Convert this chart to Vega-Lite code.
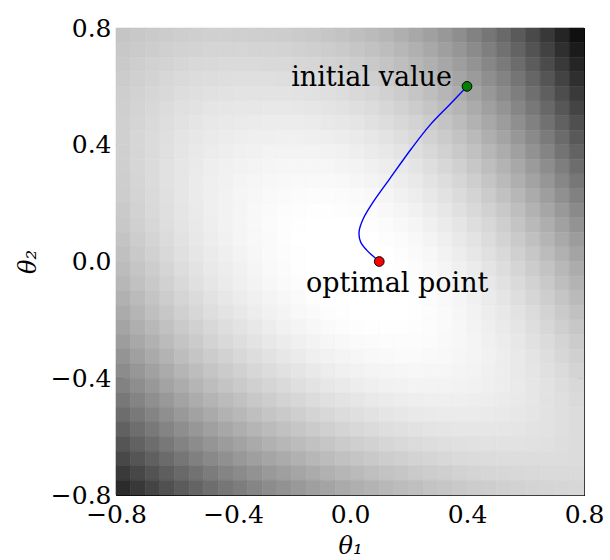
{
  "$schema": "https://vega.github.io/schema/vega-lite/v6.json",
  "width": 468,
  "height": 467,
  "autosize": {"type": "none"},
  "padding": {"left": 116, "top": 28, "right": 26, "bottom": 65},
  "background": "white",
  "config": {
    "font": "DejaVu Serif",
    "view": {"stroke": null},
    "axis": {
      "domainColor": "black", "domainWidth": 1,
      "tickColor": "black", "tickWidth": 1, "tickSize": -7,
      "labelColor": "black", "labelFont": "DejaVu Serif", "labelFontSize": 25,
      "labelOverlap": false, "labelFlush": false, "labelBound": false,
      "titleColor": "black", "titleFont": "DejaVu Serif", "titleFontWeight": "normal",
      "titleFontStyle": "italic", "titleFontSize": 24, "grid": false
    }
  },
  "datasets": {
    "surface": [
{"a":-0.775,"b":0.775,"v":58},{"a":-0.725,"b":0.775,"v":55},{"a":-0.675,"b":0.775,"v":53},{"a":-0.625,"b":0.775,"v":51},{"a":-0.575,"b":0.775,"v":49},{"a":-0.525,"b":0.775,"v":48},{"a":-0.475,"b":0.775,"v":47},{"a":-0.425,"b":0.775,"v":47},{"a":-0.375,"b":0.775,"v":48},{"a":-0.325,"b":0.775,"v":48},{"a":-0.275,"b":0.775,"v":49},{"a":-0.225,"b":0.775,"v":50},{"a":-0.175,"b":0.775,"v":52},{"a":-0.125,"b":0.775,"v":54},{"a":-0.075,"b":0.775,"v":57},{"a":-0.025,"b":0.775,"v":60},{"a":0.025,"b":0.775,"v":64},{"a":0.075,"b":0.775,"v":68},{"a":0.125,"b":0.775,"v":73},{"a":0.175,"b":0.775,"v":80},{"a":0.225,"b":0.775,"v":87},{"a":0.275,"b":0.775,"v":95},{"a":0.325,"b":0.775,"v":103},{"a":0.375,"b":0.775,"v":113},{"a":0.425,"b":0.775,"v":125},{"a":0.475,"b":0.775,"v":137},{"a":0.525,"b":0.775,"v":150},{"a":0.575,"b":0.775,"v":165},{"a":0.625,"b":0.775,"v":181},{"a":0.675,"b":0.775,"v":199},{"a":0.725,"b":0.775,"v":218},{"a":0.775,"b":0.775,"v":239},
{"a":-0.775,"b":0.725,"v":55},{"a":-0.725,"b":0.725,"v":52},{"a":-0.675,"b":0.725,"v":50},{"a":-0.625,"b":0.725,"v":47},{"a":-0.575,"b":0.725,"v":45},{"a":-0.525,"b":0.725,"v":44},{"a":-0.475,"b":0.725,"v":42},{"a":-0.425,"b":0.725,"v":42},{"a":-0.375,"b":0.725,"v":42},{"a":-0.325,"b":0.725,"v":43},{"a":-0.275,"b":0.725,"v":43},{"a":-0.225,"b":0.725,"v":44},{"a":-0.175,"b":0.725,"v":46},{"a":-0.125,"b":0.725,"v":48},{"a":-0.075,"b":0.725,"v":50},{"a":-0.025,"b":0.725,"v":53},{"a":0.025,"b":0.725,"v":57},{"a":0.075,"b":0.725,"v":61},{"a":0.125,"b":0.725,"v":66},{"a":0.175,"b":0.725,"v":72},{"a":0.225,"b":0.725,"v":79},{"a":0.275,"b":0.725,"v":87},{"a":0.325,"b":0.725,"v":96},{"a":0.375,"b":0.725,"v":105},{"a":0.425,"b":0.725,"v":116},{"a":0.475,"b":0.725,"v":128},{"a":0.525,"b":0.725,"v":142},{"a":0.575,"b":0.725,"v":156},{"a":0.625,"b":0.725,"v":172},{"a":0.675,"b":0.725,"v":189},{"a":0.725,"b":0.725,"v":208},{"a":0.775,"b":0.725,"v":228},
{"a":-0.775,"b":0.675,"v":53},{"a":-0.725,"b":0.675,"v":49},{"a":-0.675,"b":0.675,"v":46},{"a":-0.625,"b":0.675,"v":44},{"a":-0.575,"b":0.675,"v":41},{"a":-0.525,"b":0.675,"v":39},{"a":-0.475,"b":0.675,"v":38},{"a":-0.425,"b":0.675,"v":37},{"a":-0.375,"b":0.675,"v":37},{"a":-0.325,"b":0.675,"v":37},{"a":-0.275,"b":0.675,"v":38},{"a":-0.225,"b":0.675,"v":38},{"a":-0.175,"b":0.675,"v":40},{"a":-0.125,"b":0.675,"v":41},{"a":-0.075,"b":0.675,"v":44},{"a":-0.025,"b":0.675,"v":46},{"a":0.025,"b":0.675,"v":50},{"a":0.075,"b":0.675,"v":54},{"a":0.125,"b":0.675,"v":59},{"a":0.175,"b":0.675,"v":65},{"a":0.225,"b":0.675,"v":72},{"a":0.275,"b":0.675,"v":79},{"a":0.325,"b":0.675,"v":88},{"a":0.375,"b":0.675,"v":97},{"a":0.425,"b":0.675,"v":108},{"a":0.475,"b":0.675,"v":120},{"a":0.525,"b":0.675,"v":133},{"a":0.575,"b":0.675,"v":147},{"a":0.625,"b":0.675,"v":163},{"a":0.675,"b":0.675,"v":180},{"a":0.725,"b":0.675,"v":198},{"a":0.775,"b":0.675,"v":218},
{"a":-0.775,"b":0.625,"v":51},{"a":-0.725,"b":0.625,"v":47},{"a":-0.675,"b":0.625,"v":44},{"a":-0.625,"b":0.625,"v":40},{"a":-0.575,"b":0.625,"v":37},{"a":-0.525,"b":0.625,"v":35},{"a":-0.475,"b":0.625,"v":34},{"a":-0.425,"b":0.625,"v":33},{"a":-0.375,"b":0.625,"v":32},{"a":-0.325,"b":0.625,"v":32},{"a":-0.275,"b":0.625,"v":32},{"a":-0.225,"b":0.625,"v":33},{"a":-0.175,"b":0.625,"v":34},{"a":-0.125,"b":0.625,"v":36},{"a":-0.075,"b":0.625,"v":38},{"a":-0.025,"b":0.625,"v":40},{"a":0.025,"b":0.625,"v":44},{"a":0.075,"b":0.625,"v":48},{"a":0.125,"b":0.625,"v":52},{"a":0.175,"b":0.625,"v":58},{"a":0.225,"b":0.625,"v":64},{"a":0.275,"b":0.625,"v":72},{"a":0.325,"b":0.625,"v":80},{"a":0.375,"b":0.625,"v":90},{"a":0.425,"b":0.625,"v":100},{"a":0.475,"b":0.625,"v":112},{"a":0.525,"b":0.625,"v":124},{"a":0.575,"b":0.625,"v":138},{"a":0.625,"b":0.625,"v":153},{"a":0.675,"b":0.625,"v":170},{"a":0.725,"b":0.625,"v":188},{"a":0.775,"b":0.625,"v":208},
{"a":-0.775,"b":0.575,"v":49},{"a":-0.725,"b":0.575,"v":45},{"a":-0.675,"b":0.575,"v":41},{"a":-0.625,"b":0.575,"v":38},{"a":-0.575,"b":0.575,"v":34},{"a":-0.525,"b":0.575,"v":32},{"a":-0.475,"b":0.575,"v":30},{"a":-0.425,"b":0.575,"v":29},{"a":-0.375,"b":0.575,"v":28},{"a":-0.325,"b":0.575,"v":28},{"a":-0.275,"b":0.575,"v":28},{"a":-0.225,"b":0.575,"v":28},{"a":-0.175,"b":0.575,"v":29},{"a":-0.125,"b":0.575,"v":30},{"a":-0.075,"b":0.575,"v":32},{"a":-0.025,"b":0.575,"v":34},{"a":0.025,"b":0.575,"v":38},{"a":0.075,"b":0.575,"v":41},{"a":0.125,"b":0.575,"v":46},{"a":0.175,"b":0.575,"v":51},{"a":0.225,"b":0.575,"v":58},{"a":0.275,"b":0.575,"v":65},{"a":0.325,"b":0.575,"v":73},{"a":0.375,"b":0.575,"v":82},{"a":0.425,"b":0.575,"v":92},{"a":0.475,"b":0.575,"v":103},{"a":0.525,"b":0.575,"v":116},{"a":0.575,"b":0.575,"v":129},{"a":0.625,"b":0.575,"v":144},{"a":0.675,"b":0.575,"v":160},{"a":0.725,"b":0.575,"v":178},{"a":0.775,"b":0.575,"v":197},
{"a":-0.775,"b":0.525,"v":48},{"a":-0.725,"b":0.525,"v":43},{"a":-0.675,"b":0.525,"v":39},{"a":-0.625,"b":0.525,"v":35},{"a":-0.575,"b":0.525,"v":31},{"a":-0.525,"b":0.525,"v":29},{"a":-0.475,"b":0.525,"v":26},{"a":-0.425,"b":0.525,"v":25},{"a":-0.375,"b":0.525,"v":24},{"a":-0.325,"b":0.525,"v":24},{"a":-0.275,"b":0.525,"v":23},{"a":-0.225,"b":0.525,"v":23},{"a":-0.175,"b":0.525,"v":24},{"a":-0.125,"b":0.525,"v":25},{"a":-0.075,"b":0.525,"v":27},{"a":-0.025,"b":0.525,"v":29},{"a":0.025,"b":0.525,"v":32},{"a":0.075,"b":0.525,"v":35},{"a":0.125,"b":0.525,"v":40},{"a":0.175,"b":0.525,"v":45},{"a":0.225,"b":0.525,"v":51},{"a":0.275,"b":0.525,"v":58},{"a":0.325,"b":0.525,"v":66},{"a":0.375,"b":0.525,"v":74},{"a":0.425,"b":0.525,"v":84},{"a":0.475,"b":0.525,"v":95},{"a":0.525,"b":0.525,"v":107},{"a":0.575,"b":0.525,"v":121},{"a":0.625,"b":0.525,"v":135},{"a":0.675,"b":0.525,"v":151},{"a":0.725,"b":0.525,"v":168},{"a":0.775,"b":0.525,"v":187},
{"a":-0.775,"b":0.475,"v":47},{"a":-0.725,"b":0.475,"v":42},{"a":-0.675,"b":0.475,"v":37},{"a":-0.625,"b":0.475,"v":33},{"a":-0.575,"b":0.475,"v":29},{"a":-0.525,"b":0.475,"v":26},{"a":-0.475,"b":0.475,"v":23},{"a":-0.425,"b":0.475,"v":22},{"a":-0.375,"b":0.475,"v":21},{"a":-0.325,"b":0.475,"v":20},{"a":-0.275,"b":0.475,"v":19},{"a":-0.225,"b":0.475,"v":19},{"a":-0.175,"b":0.475,"v":19},{"a":-0.125,"b":0.475,"v":20},{"a":-0.075,"b":0.475,"v":22},{"a":-0.025,"b":0.475,"v":24},{"a":0.025,"b":0.475,"v":26},{"a":0.075,"b":0.475,"v":30},{"a":0.125,"b":0.475,"v":34},{"a":0.175,"b":0.475,"v":39},{"a":0.225,"b":0.475,"v":44},{"a":0.275,"b":0.475,"v":51},{"a":0.325,"b":0.475,"v":59},{"a":0.375,"b":0.475,"v":67},{"a":0.425,"b":0.475,"v":77},{"a":0.475,"b":0.475,"v":87},{"a":0.525,"b":0.475,"v":99},{"a":0.575,"b":0.475,"v":112},{"a":0.625,"b":0.475,"v":126},{"a":0.675,"b":0.475,"v":142},{"a":0.725,"b":0.475,"v":158},{"a":0.775,"b":0.475,"v":176},
{"a":-0.775,"b":0.425,"v":47},{"a":-0.725,"b":0.425,"v":41},{"a":-0.675,"b":0.425,"v":36},{"a":-0.625,"b":0.425,"v":32},{"a":-0.575,"b":0.425,"v":27},{"a":-0.525,"b":0.425,"v":24},{"a":-0.475,"b":0.425,"v":21},{"a":-0.425,"b":0.425,"v":19},{"a":-0.375,"b":0.425,"v":18},{"a":-0.325,"b":0.425,"v":16},{"a":-0.275,"b":0.425,"v":16},{"a":-0.225,"b":0.425,"v":15},{"a":-0.175,"b":0.425,"v":15},{"a":-0.125,"b":0.425,"v":16},{"a":-0.075,"b":0.425,"v":17},{"a":-0.025,"b":0.425,"v":19},{"a":0.025,"b":0.425,"v":21},{"a":0.075,"b":0.425,"v":24},{"a":0.125,"b":0.425,"v":28},{"a":0.175,"b":0.425,"v":33},{"a":0.225,"b":0.425,"v":38},{"a":0.275,"b":0.425,"v":45},{"a":0.325,"b":0.425,"v":52},{"a":0.375,"b":0.425,"v":60},{"a":0.425,"b":0.425,"v":69},{"a":0.475,"b":0.425,"v":80},{"a":0.525,"b":0.425,"v":91},{"a":0.575,"b":0.425,"v":104},{"a":0.625,"b":0.425,"v":117},{"a":0.675,"b":0.425,"v":132},{"a":0.725,"b":0.425,"v":148},{"a":0.775,"b":0.425,"v":166},
{"a":-0.775,"b":0.375,"v":47},{"a":-0.725,"b":0.375,"v":41},{"a":-0.675,"b":0.375,"v":36},{"a":-0.625,"b":0.375,"v":31},{"a":-0.575,"b":0.375,"v":26},{"a":-0.525,"b":0.375,"v":22},{"a":-0.475,"b":0.375,"v":19},{"a":-0.425,"b":0.375,"v":17},{"a":-0.375,"b":0.375,"v":15},{"a":-0.325,"b":0.375,"v":14},{"a":-0.275,"b":0.375,"v":12},{"a":-0.225,"b":0.375,"v":12},{"a":-0.175,"b":0.375,"v":12},{"a":-0.125,"b":0.375,"v":12},{"a":-0.075,"b":0.375,"v":13},{"a":-0.025,"b":0.375,"v":14},{"a":0.025,"b":0.375,"v":17},{"a":0.075,"b":0.375,"v":20},{"a":0.125,"b":0.375,"v":23},{"a":0.175,"b":0.375,"v":27},{"a":0.225,"b":0.375,"v":33},{"a":0.275,"b":0.375,"v":39},{"a":0.325,"b":0.375,"v":46},{"a":0.375,"b":0.375,"v":54},{"a":0.425,"b":0.375,"v":62},{"a":0.475,"b":0.375,"v":72},{"a":0.525,"b":0.375,"v":83},{"a":0.575,"b":0.375,"v":95},{"a":0.625,"b":0.375,"v":109},{"a":0.675,"b":0.375,"v":123},{"a":0.725,"b":0.375,"v":139},{"a":0.775,"b":0.375,"v":156},
{"a":-0.775,"b":0.325,"v":48},{"a":-0.725,"b":0.325,"v":41},{"a":-0.675,"b":0.325,"v":36},{"a":-0.625,"b":0.325,"v":30},{"a":-0.575,"b":0.325,"v":25},{"a":-0.525,"b":0.325,"v":21},{"a":-0.475,"b":0.325,"v":17},{"a":-0.425,"b":0.325,"v":15},{"a":-0.375,"b":0.325,"v":13},{"a":-0.325,"b":0.325,"v":11},{"a":-0.275,"b":0.325,"v":10},{"a":-0.225,"b":0.325,"v":9},{"a":-0.175,"b":0.325,"v":9},{"a":-0.125,"b":0.325,"v":9},{"a":-0.075,"b":0.325,"v":9},{"a":-0.025,"b":0.325,"v":11},{"a":0.025,"b":0.325,"v":12},{"a":0.075,"b":0.325,"v":15},{"a":0.125,"b":0.325,"v":18},{"a":0.175,"b":0.325,"v":22},{"a":0.225,"b":0.325,"v":27},{"a":0.275,"b":0.325,"v":33},{"a":0.325,"b":0.325,"v":40},{"a":0.375,"b":0.325,"v":47},{"a":0.425,"b":0.325,"v":56},{"a":0.475,"b":0.325,"v":65},{"a":0.525,"b":0.325,"v":76},{"a":0.575,"b":0.325,"v":87},{"a":0.625,"b":0.325,"v":100},{"a":0.675,"b":0.325,"v":114},{"a":0.725,"b":0.325,"v":129},{"a":0.775,"b":0.325,"v":146},
{"a":-0.775,"b":0.275,"v":49},{"a":-0.725,"b":0.275,"v":42},{"a":-0.675,"b":0.275,"v":36},{"a":-0.625,"b":0.275,"v":30},{"a":-0.575,"b":0.275,"v":25},{"a":-0.525,"b":0.275,"v":20},{"a":-0.475,"b":0.275,"v":16},{"a":-0.425,"b":0.275,"v":14},{"a":-0.375,"b":0.275,"v":11},{"a":-0.325,"b":0.275,"v":9},{"a":-0.275,"b":0.275,"v":8},{"a":-0.225,"b":0.275,"v":7},{"a":-0.175,"b":0.275,"v":6},{"a":-0.125,"b":0.275,"v":6},{"a":-0.075,"b":0.275,"v":6},{"a":-0.025,"b":0.275,"v":7},{"a":0.025,"b":0.275,"v":9},{"a":0.075,"b":0.275,"v":11},{"a":0.125,"b":0.275,"v":14},{"a":0.175,"b":0.275,"v":18},{"a":0.225,"b":0.275,"v":22},{"a":0.275,"b":0.275,"v":28},{"a":0.325,"b":0.275,"v":34},{"a":0.375,"b":0.275,"v":41},{"a":0.425,"b":0.275,"v":49},{"a":0.475,"b":0.275,"v":58},{"a":0.525,"b":0.275,"v":69},{"a":0.575,"b":0.275,"v":80},{"a":0.625,"b":0.275,"v":92},{"a":0.675,"b":0.275,"v":105},{"a":0.725,"b":0.275,"v":120},{"a":0.775,"b":0.275,"v":136},
{"a":-0.775,"b":0.225,"v":50},{"a":-0.725,"b":0.225,"v":43},{"a":-0.675,"b":0.225,"v":37},{"a":-0.625,"b":0.225,"v":31},{"a":-0.575,"b":0.225,"v":25},{"a":-0.525,"b":0.225,"v":20},{"a":-0.475,"b":0.225,"v":16},{"a":-0.425,"b":0.225,"v":13},{"a":-0.375,"b":0.225,"v":10},{"a":-0.325,"b":0.225,"v":8},{"a":-0.275,"b":0.225,"v":6},{"a":-0.225,"b":0.225,"v":5},{"a":-0.175,"b":0.225,"v":4},{"a":-0.125,"b":0.225,"v":3},{"a":-0.075,"b":0.225,"v":3},{"a":-0.025,"b":0.225,"v":4},{"a":0.025,"b":0.225,"v":5},{"a":0.075,"b":0.225,"v":7},{"a":0.125,"b":0.225,"v":10},{"a":0.175,"b":0.225,"v":14},{"a":0.225,"b":0.225,"v":18},{"a":0.275,"b":0.225,"v":23},{"a":0.325,"b":0.225,"v":29},{"a":0.375,"b":0.225,"v":36},{"a":0.425,"b":0.225,"v":43},{"a":0.475,"b":0.225,"v":52},{"a":0.525,"b":0.225,"v":62},{"a":0.575,"b":0.225,"v":72},{"a":0.625,"b":0.225,"v":84},{"a":0.675,"b":0.225,"v":97},{"a":0.725,"b":0.225,"v":111},{"a":0.775,"b":0.225,"v":126},
{"a":-0.775,"b":0.175,"v":53},{"a":-0.725,"b":0.175,"v":45},{"a":-0.675,"b":0.175,"v":38},{"a":-0.625,"b":0.175,"v":32},{"a":-0.575,"b":0.175,"v":26},{"a":-0.525,"b":0.175,"v":21},{"a":-0.475,"b":0.175,"v":16},{"a":-0.425,"b":0.175,"v":13},{"a":-0.375,"b":0.175,"v":10},{"a":-0.325,"b":0.175,"v":7},{"a":-0.275,"b":0.175,"v":5},{"a":-0.225,"b":0.175,"v":3},{"a":-0.175,"b":0.175,"v":2},{"a":-0.125,"b":0.175,"v":1},{"a":-0.075,"b":0.175,"v":1},{"a":-0.025,"b":0.175,"v":2},{"a":0.025,"b":0.175,"v":3},{"a":0.075,"b":0.175,"v":4},{"a":0.125,"b":0.175,"v":7},{"a":0.175,"b":0.175,"v":10},{"a":0.225,"b":0.175,"v":14},{"a":0.275,"b":0.175,"v":19},{"a":0.325,"b":0.175,"v":24},{"a":0.375,"b":0.175,"v":31},{"a":0.425,"b":0.175,"v":38},{"a":0.475,"b":0.175,"v":46},{"a":0.525,"b":0.175,"v":55},{"a":0.575,"b":0.175,"v":65},{"a":0.625,"b":0.175,"v":77},{"a":0.675,"b":0.175,"v":89},{"a":0.725,"b":0.175,"v":102},{"a":0.775,"b":0.175,"v":117},
{"a":-0.775,"b":0.125,"v":55},{"a":-0.725,"b":0.125,"v":47},{"a":-0.675,"b":0.125,"v":40},{"a":-0.625,"b":0.125,"v":33},{"a":-0.575,"b":0.125,"v":27},{"a":-0.525,"b":0.125,"v":22},{"a":-0.475,"b":0.125,"v":17},{"a":-0.425,"b":0.125,"v":13},{"a":-0.375,"b":0.125,"v":10},{"a":-0.325,"b":0.125,"v":7},{"a":-0.275,"b":0.125,"v":4},{"a":-0.225,"b":0.125,"v":2},{"a":-0.175,"b":0.125,"v":1},{"a":-0.125,"b":0.125,"v":0},{"a":-0.075,"b":0.125,"v":0},{"a":-0.025,"b":0.125,"v":0},{"a":0.025,"b":0.125,"v":0},{"a":0.075,"b":0.125,"v":2},{"a":0.125,"b":0.125,"v":4},{"a":0.175,"b":0.125,"v":7},{"a":0.225,"b":0.125,"v":10},{"a":0.275,"b":0.125,"v":15},{"a":0.325,"b":0.125,"v":20},{"a":0.375,"b":0.125,"v":26},{"a":0.425,"b":0.125,"v":33},{"a":0.475,"b":0.125,"v":40},{"a":0.525,"b":0.125,"v":49},{"a":0.575,"b":0.125,"v":59},{"a":0.625,"b":0.125,"v":70},{"a":0.675,"b":0.125,"v":81},{"a":0.725,"b":0.125,"v":94},{"a":0.775,"b":0.125,"v":108},
{"a":-0.775,"b":0.075,"v":59},{"a":-0.725,"b":0.075,"v":50},{"a":-0.675,"b":0.075,"v":43},{"a":-0.625,"b":0.075,"v":36},{"a":-0.575,"b":0.075,"v":29},{"a":-0.525,"b":0.075,"v":23},{"a":-0.475,"b":0.075,"v":18},{"a":-0.425,"b":0.075,"v":14},{"a":-0.375,"b":0.075,"v":10},{"a":-0.325,"b":0.075,"v":7},{"a":-0.275,"b":0.075,"v":5},{"a":-0.225,"b":0.075,"v":2},{"a":-0.175,"b":0.075,"v":0},{"a":-0.125,"b":0.075,"v":0},{"a":-0.075,"b":0.075,"v":0},{"a":-0.025,"b":0.075,"v":0},{"a":0.025,"b":0.075,"v":0},{"a":0.075,"b":0.075,"v":0},{"a":0.125,"b":0.075,"v":2},{"a":0.175,"b":0.075,"v":4},{"a":0.225,"b":0.075,"v":7},{"a":0.275,"b":0.075,"v":11},{"a":0.325,"b":0.075,"v":16},{"a":0.375,"b":0.075,"v":22},{"a":0.425,"b":0.075,"v":28},{"a":0.475,"b":0.075,"v":35},{"a":0.525,"b":0.075,"v":44},{"a":0.575,"b":0.075,"v":53},{"a":0.625,"b":0.075,"v":63},{"a":0.675,"b":0.075,"v":74},{"a":0.725,"b":0.075,"v":86},{"a":0.775,"b":0.075,"v":99},
{"a":-0.775,"b":0.025,"v":63},{"a":-0.725,"b":0.025,"v":54},{"a":-0.675,"b":0.025,"v":46},{"a":-0.625,"b":0.025,"v":38},{"a":-0.575,"b":0.025,"v":31},{"a":-0.525,"b":0.025,"v":25},{"a":-0.475,"b":0.025,"v":20},{"a":-0.425,"b":0.025,"v":16},{"a":-0.375,"b":0.025,"v":12},{"a":-0.325,"b":0.025,"v":8},{"a":-0.275,"b":0.025,"v":5},{"a":-0.225,"b":0.025,"v":3},{"a":-0.175,"b":0.025,"v":1},{"a":-0.125,"b":0.025,"v":0},{"a":-0.075,"b":0.025,"v":0},{"a":-0.025,"b":0.025,"v":0},{"a":0.025,"b":0.025,"v":0},{"a":0.075,"b":0.025,"v":0},{"a":0.125,"b":0.025,"v":0},{"a":0.175,"b":0.025,"v":2},{"a":0.225,"b":0.025,"v":5},{"a":0.275,"b":0.025,"v":8},{"a":0.325,"b":0.025,"v":13},{"a":0.375,"b":0.025,"v":18},{"a":0.425,"b":0.025,"v":24},{"a":0.475,"b":0.025,"v":31},{"a":0.525,"b":0.025,"v":38},{"a":0.575,"b":0.025,"v":47},{"a":0.625,"b":0.025,"v":56},{"a":0.675,"b":0.025,"v":67},{"a":0.725,"b":0.025,"v":78},{"a":0.775,"b":0.025,"v":91},
{"a":-0.775,"b":-0.025,"v":67},{"a":-0.725,"b":-0.025,"v":58},{"a":-0.675,"b":-0.025,"v":50},{"a":-0.625,"b":-0.025,"v":42},{"a":-0.575,"b":-0.025,"v":34},{"a":-0.525,"b":-0.025,"v":28},{"a":-0.475,"b":-0.025,"v":22},{"a":-0.425,"b":-0.025,"v":18},{"a":-0.375,"b":-0.025,"v":14},{"a":-0.325,"b":-0.025,"v":10},{"a":-0.275,"b":-0.025,"v":6},{"a":-0.225,"b":-0.025,"v":4},{"a":-0.175,"b":-0.025,"v":1},{"a":-0.125,"b":-0.025,"v":0},{"a":-0.075,"b":-0.025,"v":0},{"a":-0.025,"b":-0.025,"v":0},{"a":0.025,"b":-0.025,"v":0},{"a":0.075,"b":-0.025,"v":0},{"a":0.125,"b":-0.025,"v":0},{"a":0.175,"b":-0.025,"v":1},{"a":0.225,"b":-0.025,"v":3},{"a":0.275,"b":-0.025,"v":6},{"a":0.325,"b":-0.025,"v":10},{"a":0.375,"b":-0.025,"v":15},{"a":0.425,"b":-0.025,"v":20},{"a":0.475,"b":-0.025,"v":27},{"a":0.525,"b":-0.025,"v":34},{"a":0.575,"b":-0.025,"v":42},{"a":0.625,"b":-0.025,"v":51},{"a":0.675,"b":-0.025,"v":60},{"a":0.725,"b":-0.025,"v":71},{"a":0.775,"b":-0.025,"v":83},
{"a":-0.775,"b":-0.075,"v":72},{"a":-0.725,"b":-0.075,"v":62},{"a":-0.675,"b":-0.075,"v":54},{"a":-0.625,"b":-0.075,"v":46},{"a":-0.575,"b":-0.075,"v":38},{"a":-0.525,"b":-0.075,"v":31},{"a":-0.475,"b":-0.075,"v":25},{"a":-0.425,"b":-0.075,"v":20},{"a":-0.375,"b":-0.075,"v":16},{"a":-0.325,"b":-0.075,"v":12},{"a":-0.275,"b":-0.075,"v":8},{"a":-0.225,"b":-0.075,"v":5},{"a":-0.175,"b":-0.075,"v":3},{"a":-0.125,"b":-0.075,"v":0},{"a":-0.075,"b":-0.075,"v":0},{"a":-0.025,"b":-0.075,"v":0},{"a":0.025,"b":-0.075,"v":0},{"a":0.075,"b":-0.075,"v":0},{"a":0.125,"b":-0.075,"v":0},{"a":0.175,"b":-0.075,"v":0},{"a":0.225,"b":-0.075,"v":2},{"a":0.275,"b":-0.075,"v":4},{"a":0.325,"b":-0.075,"v":8},{"a":0.375,"b":-0.075,"v":12},{"a":0.425,"b":-0.075,"v":17},{"a":0.475,"b":-0.075,"v":23},{"a":0.525,"b":-0.075,"v":30},{"a":0.575,"b":-0.075,"v":37},{"a":0.625,"b":-0.075,"v":45},{"a":0.675,"b":-0.075,"v":54},{"a":0.725,"b":-0.075,"v":65},{"a":0.775,"b":-0.075,"v":76},
{"a":-0.775,"b":-0.125,"v":78},{"a":-0.725,"b":-0.125,"v":68},{"a":-0.675,"b":-0.125,"v":59},{"a":-0.625,"b":-0.125,"v":50},{"a":-0.575,"b":-0.125,"v":42},{"a":-0.525,"b":-0.125,"v":36},{"a":-0.475,"b":-0.125,"v":29},{"a":-0.425,"b":-0.125,"v":24},{"a":-0.375,"b":-0.125,"v":19},{"a":-0.325,"b":-0.125,"v":15},{"a":-0.275,"b":-0.125,"v":11},{"a":-0.225,"b":-0.125,"v":8},{"a":-0.175,"b":-0.125,"v":5},{"a":-0.125,"b":-0.125,"v":2},{"a":-0.075,"b":-0.125,"v":0},{"a":-0.025,"b":-0.125,"v":0},{"a":0.025,"b":-0.125,"v":0},{"a":0.075,"b":-0.125,"v":0},{"a":0.125,"b":-0.125,"v":0},{"a":0.175,"b":-0.125,"v":0},{"a":0.225,"b":-0.125,"v":1},{"a":0.275,"b":-0.125,"v":3},{"a":0.325,"b":-0.125,"v":6},{"a":0.375,"b":-0.125,"v":10},{"a":0.425,"b":-0.125,"v":15},{"a":0.475,"b":-0.125,"v":20},{"a":0.525,"b":-0.125,"v":26},{"a":0.575,"b":-0.125,"v":33},{"a":0.625,"b":-0.125,"v":41},{"a":0.675,"b":-0.125,"v":49},{"a":0.725,"b":-0.125,"v":58},{"a":0.775,"b":-0.125,"v":69},
{"a":-0.775,"b":-0.175,"v":84},{"a":-0.725,"b":-0.175,"v":74},{"a":-0.675,"b":-0.175,"v":64},{"a":-0.625,"b":-0.175,"v":56},{"a":-0.575,"b":-0.175,"v":47},{"a":-0.525,"b":-0.175,"v":40},{"a":-0.475,"b":-0.175,"v":33},{"a":-0.425,"b":-0.175,"v":28},{"a":-0.375,"b":-0.175,"v":23},{"a":-0.325,"b":-0.175,"v":18},{"a":-0.275,"b":-0.175,"v":14},{"a":-0.225,"b":-0.175,"v":11},{"a":-0.175,"b":-0.175,"v":7},{"a":-0.125,"b":-0.175,"v":5},{"a":-0.075,"b":-0.175,"v":2},{"a":-0.025,"b":-0.175,"v":1},{"a":0.025,"b":-0.175,"v":0},{"a":0.075,"b":-0.175,"v":0},{"a":0.125,"b":-0.175,"v":0},{"a":0.175,"b":-0.175,"v":0},{"a":0.225,"b":-0.175,"v":1},{"a":0.275,"b":-0.175,"v":3},{"a":0.325,"b":-0.175,"v":5},{"a":0.375,"b":-0.175,"v":9},{"a":0.425,"b":-0.175,"v":13},{"a":0.475,"b":-0.175,"v":18},{"a":0.525,"b":-0.175,"v":23},{"a":0.575,"b":-0.175,"v":29},{"a":0.625,"b":-0.175,"v":36},{"a":0.675,"b":-0.175,"v":44},{"a":0.725,"b":-0.175,"v":53},{"a":0.775,"b":-0.175,"v":62},
{"a":-0.775,"b":-0.225,"v":91},{"a":-0.725,"b":-0.225,"v":80},{"a":-0.675,"b":-0.225,"v":71},{"a":-0.625,"b":-0.225,"v":62},{"a":-0.575,"b":-0.225,"v":53},{"a":-0.525,"b":-0.225,"v":46},{"a":-0.475,"b":-0.225,"v":39},{"a":-0.425,"b":-0.225,"v":33},{"a":-0.375,"b":-0.225,"v":28},{"a":-0.325,"b":-0.225,"v":23},{"a":-0.275,"b":-0.225,"v":18},{"a":-0.225,"b":-0.225,"v":14},{"a":-0.175,"b":-0.225,"v":11},{"a":-0.125,"b":-0.225,"v":8},{"a":-0.075,"b":-0.225,"v":5},{"a":-0.025,"b":-0.225,"v":3},{"a":0.025,"b":-0.225,"v":2},{"a":0.075,"b":-0.225,"v":1},{"a":0.125,"b":-0.225,"v":1},{"a":0.175,"b":-0.225,"v":1},{"a":0.225,"b":-0.225,"v":2},{"a":0.275,"b":-0.225,"v":3},{"a":0.325,"b":-0.225,"v":5},{"a":0.375,"b":-0.225,"v":8},{"a":0.425,"b":-0.225,"v":12},{"a":0.475,"b":-0.225,"v":16},{"a":0.525,"b":-0.225,"v":21},{"a":0.575,"b":-0.225,"v":26},{"a":0.625,"b":-0.225,"v":33},{"a":0.675,"b":-0.225,"v":40},{"a":0.725,"b":-0.225,"v":48},{"a":0.775,"b":-0.225,"v":56},
{"a":-0.775,"b":-0.275,"v":98},{"a":-0.725,"b":-0.275,"v":87},{"a":-0.675,"b":-0.275,"v":78},{"a":-0.625,"b":-0.275,"v":68},{"a":-0.575,"b":-0.275,"v":59},{"a":-0.525,"b":-0.275,"v":52},{"a":-0.475,"b":-0.275,"v":44},{"a":-0.425,"b":-0.275,"v":38},{"a":-0.375,"b":-0.275,"v":33},{"a":-0.325,"b":-0.275,"v":28},{"a":-0.275,"b":-0.275,"v":23},{"a":-0.225,"b":-0.275,"v":19},{"a":-0.175,"b":-0.275,"v":15},{"a":-0.125,"b":-0.275,"v":12},{"a":-0.075,"b":-0.275,"v":9},{"a":-0.025,"b":-0.275,"v":7},{"a":0.025,"b":-0.275,"v":5},{"a":0.075,"b":-0.275,"v":4},{"a":0.125,"b":-0.275,"v":3},{"a":0.175,"b":-0.275,"v":3},{"a":0.225,"b":-0.275,"v":3},{"a":0.275,"b":-0.275,"v":4},{"a":0.325,"b":-0.275,"v":6},{"a":0.375,"b":-0.275,"v":8},{"a":0.425,"b":-0.275,"v":11},{"a":0.475,"b":-0.275,"v":15},{"a":0.525,"b":-0.275,"v":19},{"a":0.575,"b":-0.275,"v":24},{"a":0.625,"b":-0.275,"v":30},{"a":0.675,"b":-0.275,"v":36},{"a":0.725,"b":-0.275,"v":43},{"a":0.775,"b":-0.275,"v":51},
{"a":-0.775,"b":-0.325,"v":107},{"a":-0.725,"b":-0.325,"v":95},{"a":-0.675,"b":-0.325,"v":85},{"a":-0.625,"b":-0.325,"v":76},{"a":-0.575,"b":-0.325,"v":66},{"a":-0.525,"b":-0.325,"v":58},{"a":-0.475,"b":-0.325,"v":51},{"a":-0.425,"b":-0.325,"v":45},{"a":-0.375,"b":-0.325,"v":39},{"a":-0.325,"b":-0.325,"v":34},{"a":-0.275,"b":-0.325,"v":29},{"a":-0.225,"b":-0.325,"v":24},{"a":-0.175,"b":-0.325,"v":20},{"a":-0.125,"b":-0.325,"v":16},{"a":-0.075,"b":-0.325,"v":13},{"a":-0.025,"b":-0.325,"v":11},{"a":0.025,"b":-0.325,"v":9},{"a":0.075,"b":-0.325,"v":7},{"a":0.125,"b":-0.325,"v":6},{"a":0.175,"b":-0.325,"v":5},{"a":0.225,"b":-0.325,"v":5},{"a":0.275,"b":-0.325,"v":6},{"a":0.325,"b":-0.325,"v":7},{"a":0.375,"b":-0.325,"v":9},{"a":0.425,"b":-0.325,"v":11},{"a":0.475,"b":-0.325,"v":14},{"a":0.525,"b":-0.325,"v":18},{"a":0.575,"b":-0.325,"v":22},{"a":0.625,"b":-0.325,"v":27},{"a":0.675,"b":-0.325,"v":33},{"a":0.725,"b":-0.325,"v":40},{"a":0.775,"b":-0.325,"v":47},
{"a":-0.775,"b":-0.375,"v":115},{"a":-0.725,"b":-0.375,"v":104},{"a":-0.675,"b":-0.375,"v":94},{"a":-0.625,"b":-0.375,"v":84},{"a":-0.575,"b":-0.375,"v":74},{"a":-0.525,"b":-0.375,"v":66},{"a":-0.475,"b":-0.375,"v":58},{"a":-0.425,"b":-0.375,"v":52},{"a":-0.375,"b":-0.375,"v":46},{"a":-0.325,"b":-0.375,"v":40},{"a":-0.275,"b":-0.375,"v":35},{"a":-0.225,"b":-0.375,"v":30},{"a":-0.175,"b":-0.375,"v":26},{"a":-0.125,"b":-0.375,"v":22},{"a":-0.075,"b":-0.375,"v":18},{"a":-0.025,"b":-0.375,"v":15},{"a":0.025,"b":-0.375,"v":13},{"a":0.075,"b":-0.375,"v":11},{"a":0.125,"b":-0.375,"v":10},{"a":0.175,"b":-0.375,"v":9},{"a":0.225,"b":-0.375,"v":8},{"a":0.275,"b":-0.375,"v":9},{"a":0.325,"b":-0.375,"v":9},{"a":0.375,"b":-0.375,"v":11},{"a":0.425,"b":-0.375,"v":12},{"a":0.475,"b":-0.375,"v":15},{"a":0.525,"b":-0.375,"v":18},{"a":0.575,"b":-0.375,"v":22},{"a":0.625,"b":-0.375,"v":26},{"a":0.675,"b":-0.375,"v":31},{"a":0.725,"b":-0.375,"v":36},{"a":0.775,"b":-0.375,"v":43},
{"a":-0.775,"b":-0.425,"v":125},{"a":-0.725,"b":-0.425,"v":113},{"a":-0.675,"b":-0.425,"v":103},{"a":-0.625,"b":-0.425,"v":92},{"a":-0.575,"b":-0.425,"v":83},{"a":-0.525,"b":-0.425,"v":74},{"a":-0.475,"b":-0.425,"v":66},{"a":-0.425,"b":-0.425,"v":59},{"a":-0.375,"b":-0.425,"v":53},{"a":-0.325,"b":-0.425,"v":47},{"a":-0.275,"b":-0.425,"v":42},{"a":-0.225,"b":-0.425,"v":37},{"a":-0.175,"b":-0.425,"v":32},{"a":-0.125,"b":-0.425,"v":28},{"a":-0.075,"b":-0.425,"v":24},{"a":-0.025,"b":-0.425,"v":21},{"a":0.025,"b":-0.425,"v":18},{"a":0.075,"b":-0.425,"v":16},{"a":0.125,"b":-0.425,"v":14},{"a":0.175,"b":-0.425,"v":13},{"a":0.225,"b":-0.425,"v":12},{"a":0.275,"b":-0.425,"v":12},{"a":0.325,"b":-0.425,"v":12},{"a":0.375,"b":-0.425,"v":13},{"a":0.425,"b":-0.425,"v":14},{"a":0.475,"b":-0.425,"v":16},{"a":0.525,"b":-0.425,"v":18},{"a":0.575,"b":-0.425,"v":21},{"a":0.625,"b":-0.425,"v":25},{"a":0.675,"b":-0.425,"v":29},{"a":0.725,"b":-0.425,"v":34},{"a":0.775,"b":-0.425,"v":39},
{"a":-0.775,"b":-0.475,"v":135},{"a":-0.725,"b":-0.475,"v":123},{"a":-0.675,"b":-0.475,"v":112},{"a":-0.625,"b":-0.475,"v":102},{"a":-0.575,"b":-0.475,"v":92},{"a":-0.525,"b":-0.475,"v":83},{"a":-0.475,"b":-0.475,"v":75},{"a":-0.425,"b":-0.475,"v":68},{"a":-0.375,"b":-0.475,"v":62},{"a":-0.325,"b":-0.475,"v":55},{"a":-0.275,"b":-0.475,"v":50},{"a":-0.225,"b":-0.475,"v":44},{"a":-0.175,"b":-0.475,"v":40},{"a":-0.125,"b":-0.475,"v":35},{"a":-0.075,"b":-0.475,"v":31},{"a":-0.025,"b":-0.475,"v":28},{"a":0.025,"b":-0.475,"v":25},{"a":0.075,"b":-0.475,"v":22},{"a":0.125,"b":-0.475,"v":20},{"a":0.175,"b":-0.475,"v":18},{"a":0.225,"b":-0.475,"v":17},{"a":0.275,"b":-0.475,"v":16},{"a":0.325,"b":-0.475,"v":16},{"a":0.375,"b":-0.475,"v":16},{"a":0.425,"b":-0.475,"v":17},{"a":0.475,"b":-0.475,"v":18},{"a":0.525,"b":-0.475,"v":20},{"a":0.575,"b":-0.475,"v":22},{"a":0.625,"b":-0.475,"v":25},{"a":0.675,"b":-0.475,"v":29},{"a":0.725,"b":-0.475,"v":32},{"a":0.775,"b":-0.475,"v":37},
{"a":-0.775,"b":-0.525,"v":146},{"a":-0.725,"b":-0.525,"v":134},{"a":-0.675,"b":-0.525,"v":123},{"a":-0.625,"b":-0.525,"v":112},{"a":-0.575,"b":-0.525,"v":102},{"a":-0.525,"b":-0.525,"v":93},{"a":-0.475,"b":-0.525,"v":85},{"a":-0.425,"b":-0.525,"v":77},{"a":-0.375,"b":-0.525,"v":71},{"a":-0.325,"b":-0.525,"v":64},{"a":-0.275,"b":-0.525,"v":58},{"a":-0.225,"b":-0.525,"v":53},{"a":-0.175,"b":-0.525,"v":48},{"a":-0.125,"b":-0.525,"v":43},{"a":-0.075,"b":-0.525,"v":39},{"a":-0.025,"b":-0.525,"v":35},{"a":0.025,"b":-0.525,"v":32},{"a":0.075,"b":-0.525,"v":29},{"a":0.125,"b":-0.525,"v":26},{"a":0.175,"b":-0.525,"v":24},{"a":0.225,"b":-0.525,"v":22},{"a":0.275,"b":-0.525,"v":21},{"a":0.325,"b":-0.525,"v":20},{"a":0.375,"b":-0.525,"v":20},{"a":0.425,"b":-0.525,"v":20},{"a":0.475,"b":-0.525,"v":21},{"a":0.525,"b":-0.525,"v":22},{"a":0.575,"b":-0.525,"v":24},{"a":0.625,"b":-0.525,"v":26},{"a":0.675,"b":-0.525,"v":29},{"a":0.725,"b":-0.525,"v":32},{"a":0.775,"b":-0.525,"v":35},
{"a":-0.775,"b":-0.575,"v":158},{"a":-0.725,"b":-0.575,"v":145},{"a":-0.675,"b":-0.575,"v":134},{"a":-0.625,"b":-0.575,"v":123},{"a":-0.575,"b":-0.575,"v":113},{"a":-0.525,"b":-0.575,"v":104},{"a":-0.475,"b":-0.575,"v":95},{"a":-0.425,"b":-0.575,"v":88},{"a":-0.375,"b":-0.575,"v":81},{"a":-0.325,"b":-0.575,"v":74},{"a":-0.275,"b":-0.575,"v":68},{"a":-0.225,"b":-0.575,"v":62},{"a":-0.175,"b":-0.575,"v":57},{"a":-0.125,"b":-0.575,"v":52},{"a":-0.075,"b":-0.575,"v":47},{"a":-0.025,"b":-0.575,"v":43},{"a":0.025,"b":-0.575,"v":39},{"a":0.075,"b":-0.575,"v":36},{"a":0.125,"b":-0.575,"v":33},{"a":0.175,"b":-0.575,"v":31},{"a":0.225,"b":-0.575,"v":29},{"a":0.275,"b":-0.575,"v":27},{"a":0.325,"b":-0.575,"v":26},{"a":0.375,"b":-0.575,"v":25},{"a":0.425,"b":-0.575,"v":25},{"a":0.475,"b":-0.575,"v":25},{"a":0.525,"b":-0.575,"v":25},{"a":0.575,"b":-0.575,"v":26},{"a":0.625,"b":-0.575,"v":28},{"a":0.675,"b":-0.575,"v":29},{"a":0.725,"b":-0.575,"v":32},{"a":0.775,"b":-0.575,"v":35},
{"a":-0.775,"b":-0.625,"v":170},{"a":-0.725,"b":-0.625,"v":157},{"a":-0.675,"b":-0.625,"v":146},{"a":-0.625,"b":-0.625,"v":135},{"a":-0.575,"b":-0.625,"v":124},{"a":-0.525,"b":-0.625,"v":115},{"a":-0.475,"b":-0.625,"v":106},{"a":-0.425,"b":-0.625,"v":99},{"a":-0.375,"b":-0.625,"v":92},{"a":-0.325,"b":-0.625,"v":85},{"a":-0.275,"b":-0.625,"v":78},{"a":-0.225,"b":-0.625,"v":72},{"a":-0.175,"b":-0.625,"v":67},{"a":-0.125,"b":-0.625,"v":62},{"a":-0.075,"b":-0.625,"v":57},{"a":-0.025,"b":-0.625,"v":52},{"a":0.025,"b":-0.625,"v":48},{"a":0.075,"b":-0.625,"v":45},{"a":0.125,"b":-0.625,"v":41},{"a":0.175,"b":-0.625,"v":38},{"a":0.225,"b":-0.625,"v":36},{"a":0.275,"b":-0.625,"v":34},{"a":0.325,"b":-0.625,"v":32},{"a":0.375,"b":-0.625,"v":31},{"a":0.425,"b":-0.625,"v":30},{"a":0.475,"b":-0.625,"v":29},{"a":0.525,"b":-0.625,"v":29},{"a":0.575,"b":-0.625,"v":29},{"a":0.625,"b":-0.625,"v":30},{"a":0.675,"b":-0.625,"v":31},{"a":0.725,"b":-0.625,"v":33},{"a":0.775,"b":-0.625,"v":35},
{"a":-0.775,"b":-0.675,"v":183},{"a":-0.725,"b":-0.675,"v":170},{"a":-0.675,"b":-0.675,"v":159},{"a":-0.625,"b":-0.675,"v":148},{"a":-0.575,"b":-0.675,"v":137},{"a":-0.525,"b":-0.675,"v":127},{"a":-0.475,"b":-0.675,"v":118},{"a":-0.425,"b":-0.675,"v":111},{"a":-0.375,"b":-0.675,"v":103},{"a":-0.325,"b":-0.675,"v":96},{"a":-0.275,"b":-0.675,"v":90},{"a":-0.225,"b":-0.675,"v":84},{"a":-0.175,"b":-0.675,"v":78},{"a":-0.125,"b":-0.675,"v":72},{"a":-0.075,"b":-0.675,"v":67},{"a":-0.025,"b":-0.675,"v":62},{"a":0.025,"b":-0.675,"v":58},{"a":0.075,"b":-0.675,"v":54},{"a":0.125,"b":-0.675,"v":50},{"a":0.175,"b":-0.675,"v":47},{"a":0.225,"b":-0.675,"v":44},{"a":0.275,"b":-0.675,"v":42},{"a":0.325,"b":-0.675,"v":39},{"a":0.375,"b":-0.675,"v":37},{"a":0.425,"b":-0.675,"v":36},{"a":0.475,"b":-0.675,"v":35},{"a":0.525,"b":-0.675,"v":34},{"a":0.575,"b":-0.675,"v":34},{"a":0.625,"b":-0.675,"v":34},{"a":0.675,"b":-0.675,"v":34},{"a":0.725,"b":-0.675,"v":34},{"a":0.775,"b":-0.675,"v":35},
{"a":-0.775,"b":-0.725,"v":197},{"a":-0.725,"b":-0.725,"v":184},{"a":-0.675,"b":-0.725,"v":172},{"a":-0.625,"b":-0.725,"v":161},{"a":-0.575,"b":-0.725,"v":150},{"a":-0.525,"b":-0.725,"v":141},{"a":-0.475,"b":-0.725,"v":131},{"a":-0.425,"b":-0.725,"v":123},{"a":-0.375,"b":-0.725,"v":116},{"a":-0.325,"b":-0.725,"v":109},{"a":-0.275,"b":-0.725,"v":102},{"a":-0.225,"b":-0.725,"v":96},{"a":-0.175,"b":-0.725,"v":90},{"a":-0.125,"b":-0.725,"v":84},{"a":-0.075,"b":-0.725,"v":78},{"a":-0.025,"b":-0.725,"v":73},{"a":0.025,"b":-0.725,"v":69},{"a":0.075,"b":-0.725,"v":64},{"a":0.125,"b":-0.725,"v":60},{"a":0.175,"b":-0.725,"v":57},{"a":0.225,"b":-0.725,"v":53},{"a":0.275,"b":-0.725,"v":50},{"a":0.325,"b":-0.725,"v":48},{"a":0.375,"b":-0.725,"v":45},{"a":0.425,"b":-0.725,"v":43},{"a":0.475,"b":-0.725,"v":41},{"a":0.525,"b":-0.725,"v":40},{"a":0.575,"b":-0.725,"v":39},{"a":0.625,"b":-0.725,"v":38},{"a":0.675,"b":-0.725,"v":37},{"a":0.725,"b":-0.725,"v":37},{"a":0.775,"b":-0.725,"v":37},
{"a":-0.775,"b":-0.775,"v":212},{"a":-0.725,"b":-0.775,"v":199},{"a":-0.675,"b":-0.775,"v":187},{"a":-0.625,"b":-0.775,"v":175},{"a":-0.575,"b":-0.775,"v":164},{"a":-0.525,"b":-0.775,"v":155},{"a":-0.475,"b":-0.775,"v":145},{"a":-0.425,"b":-0.775,"v":137},{"a":-0.375,"b":-0.775,"v":130},{"a":-0.325,"b":-0.775,"v":122},{"a":-0.275,"b":-0.775,"v":115},{"a":-0.225,"b":-0.775,"v":109},{"a":-0.175,"b":-0.775,"v":102},{"a":-0.125,"b":-0.775,"v":96},{"a":-0.075,"b":-0.775,"v":91},{"a":-0.025,"b":-0.775,"v":85},{"a":0.025,"b":-0.775,"v":80},{"a":0.075,"b":-0.775,"v":76},{"a":0.125,"b":-0.775,"v":71},{"a":0.175,"b":-0.775,"v":67},{"a":0.225,"b":-0.775,"v":64},{"a":0.275,"b":-0.775,"v":60},{"a":0.325,"b":-0.775,"v":57},{"a":0.375,"b":-0.775,"v":54},{"a":0.425,"b":-0.775,"v":51},{"a":0.475,"b":-0.775,"v":49},{"a":0.525,"b":-0.775,"v":47},{"a":0.575,"b":-0.775,"v":45},{"a":0.625,"b":-0.775,"v":43},{"a":0.675,"b":-0.775,"v":42},{"a":0.725,"b":-0.775,"v":41},{"a":0.775,"b":-0.775,"v":40}
    ],
    "path": [
      {"s":0,"t1":0.4,"t2":0.6},{"s":1,"t1":0.342,"t2":0.539},{"s":2,"t1":0.274,"t2":0.468},{"s":3,"t1":0.211,"t2":0.388},
      {"s":4,"t1":0.137,"t2":0.285},{"s":5,"t1":0.08,"t2":0.205},{"s":6,"t1":0.046,"t2":0.148},{"s":7,"t1":0.031,"t2":0.102},
      {"s":8,"t1":0.036,"t2":0.068},{"s":9,"t1":0.057,"t2":0.039},{"s":10,"t1":0.085,"t2":0.013},{"s":11,"t1":0.1,"t2":0.0}
    ],
    "points": [
      {"t1":0.4,"t2":0.6,"label":"initial value"},
      {"t1":0.1,"t2":0.0,"label":"optimal point"}
    ]
  },
  "layer": [
    {
      "data": {"name": "surface"},
      "mark": {"type": "rect", "strokeWidth": 0.6},
      "encoding": {
        "x": {"field": "a", "type": "ordinal", "axis": null, "scale": {"paddingInner": 0, "paddingOuter": 0}},
        "y": {"field": "b", "type": "ordinal", "axis": null, "sort": "descending", "scale": {"paddingInner": 0, "paddingOuter": 0}},
        "color": {"field": "v", "type": "quantitative", "legend": null,
          "scale": {"domain": [0, 255], "range": ["#ffffff", "#000000"], "interpolate": "rgb"}},
        "stroke": {"field": "v", "type": "quantitative", "legend": null,
          "scale": {"domain": [0, 255], "range": ["#ffffff", "#000000"], "interpolate": "rgb"}}
      }
    },
    {
      "layer": [
        {
          "data": {"name": "path"},
          "mark": {"type": "line", "color": "#0000ff", "strokeWidth": 1.4, "interpolate": "catmull-rom"},
          "encoding": {
            "x": {"field": "t1", "type": "quantitative",
              "scale": {"domain": [-0.8, 0.8], "nice": false, "zero": false},
              "axis": {"orient": "bottom", "values": [-0.8, -0.4, 0, 0.4, 0.8], "format": ".1f",
                "labelPadding": 14, "title": "θ₁", "titlePadding": 7}},
            "y": {"field": "t2", "type": "quantitative",
              "scale": {"domain": [-0.8, 0.8], "nice": false, "zero": false},
              "axis": {"orient": "left", "values": [-0.8, -0.4, 0, 0.4, 0.8], "format": ".1f",
                "labelPadding": 12, "title": "θ₂", "titlePadding": 10}},
            "order": {"field": "s", "type": "quantitative"}
          }
        },
        {
          "data": {"name": "points"},
          "mark": {"type": "point", "filled": true, "size": 95, "stroke": "black", "strokeWidth": 1, "opacity": 1, "shape": "circle"},
          "encoding": {
            "x": {"field": "t1", "type": "quantitative", "scale": {"domain": [-0.8, 0.8], "nice": false, "zero": false}, "axis": null},
            "y": {"field": "t2", "type": "quantitative", "scale": {"domain": [-0.8, 0.8], "nice": false, "zero": false}, "axis": null},
            "fill": {"field": "label", "type": "nominal", "legend": null,
              "scale": {"domain": ["initial value", "optimal point"], "range": ["#008000", "#ff0000"]}}
          }
        },
        {
          "data": {"name": "points"},
          "transform": [{"filter": "datum.label === 'initial value'"}],
          "mark": {"type": "text", "align": "right", "baseline": "alphabetic", "dx": -15, "dy": 0, "fontSize": 27, "font": "DejaVu Serif", "color": "black"},
          "encoding": {
            "x": {"field": "t1", "type": "quantitative", "scale": {"domain": [-0.8, 0.8], "nice": false, "zero": false}, "axis": null},
            "y": {"field": "t2", "type": "quantitative", "scale": {"domain": [-0.8, 0.8], "nice": false, "zero": false}, "axis": null},
            "text": {"field": "label"}
          }
        },
        {
          "data": {"name": "points"},
          "transform": [{"filter": "datum.label === 'optimal point'"}],
          "mark": {"type": "text", "align": "center", "baseline": "alphabetic", "dx": 18, "dy": 30, "fontSize": 27, "font": "DejaVu Serif", "color": "black"},
          "encoding": {
            "x": {"field": "t1", "type": "quantitative", "scale": {"domain": [-0.8, 0.8], "nice": false, "zero": false}, "axis": null},
            "y": {"field": "t2", "type": "quantitative", "scale": {"domain": [-0.8, 0.8], "nice": false, "zero": false}, "axis": null},
            "text": {"field": "label"}
          }
        },
        {
          "data": {"name": "points"},
          "mark": {"type": "point", "opacity": 0},
          "encoding": {
            "x": {"field": "t1", "type": "quantitative", "scale": {"domain": [-0.8, 0.8], "nice": false, "zero": false},
              "axis": {"orient": "top", "values": [-0.8, -0.4, 0, 0.4, 0.8], "labels": false, "title": null}},
            "y": {"field": "t2", "type": "quantitative", "scale": {"domain": [-0.8, 0.8], "nice": false, "zero": false},
              "axis": {"orient": "right", "values": [-0.8, -0.4, 0, 0.4, 0.8], "labels": false, "title": null}}
          }
        }
      ],
      "resolve": {"axis": {"x": "independent", "y": "independent"}}
    }
  ],
  "resolve": {"scale": {"x": "independent", "y": "independent", "color": "independent", "stroke": "independent"}}
}
